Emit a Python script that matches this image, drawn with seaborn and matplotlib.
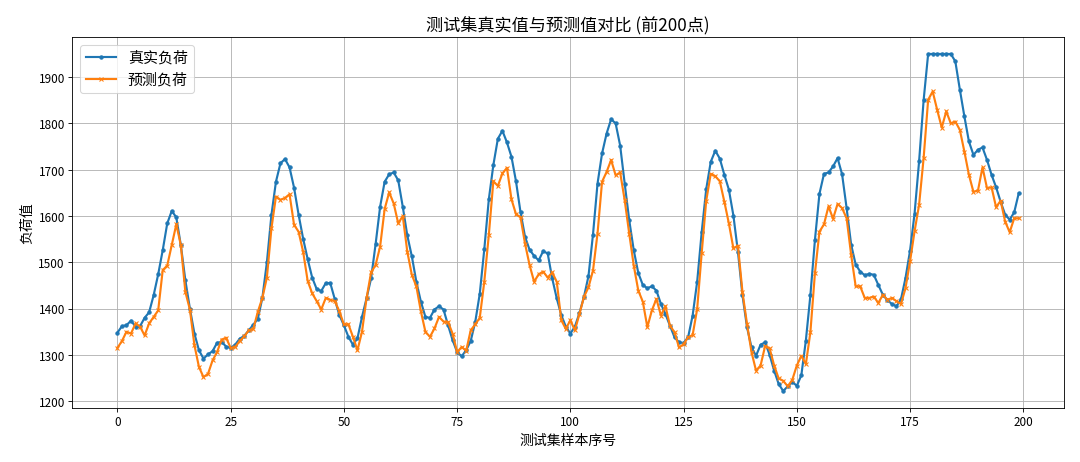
import numpy as np
import pandas as pd
import matplotlib
matplotlib.use('Agg')
import matplotlib.pyplot as plt
import seaborn as sns

# values (first 200 test samples)
true_load = [
    1348, 1362, 1364, 1374, 1361, 1362, 1380, 1392, 1429, 1474,
    1526, 1584, 1611, 1597, 1537, 1461, 1400, 1346, 1310, 1292,
    1301, 1308, 1326, 1328, 1318, 1315, 1322, 1335, 1341, 1353,
    1365, 1378, 1423, 1500, 1602, 1674, 1714, 1723, 1705, 1661,
    1603, 1551, 1507, 1467, 1442, 1438, 1455, 1455, 1420, 1386,
    1364, 1339, 1322, 1336, 1382, 1422, 1465, 1539, 1620, 1674,
    1690, 1694, 1677, 1620, 1558, 1513, 1458, 1415, 1382, 1380,
    1398, 1405, 1398, 1364, 1332, 1306, 1297, 1310, 1330, 1371,
    1432, 1528, 1636, 1710, 1767, 1784, 1759, 1728, 1675, 1608,
    1555, 1527, 1514, 1504, 1524, 1519, 1465, 1422, 1386, 1361,
    1346, 1361, 1390, 1425, 1470, 1560, 1670, 1735, 1778, 1809,
    1800, 1752, 1670, 1591, 1526, 1477, 1451, 1444, 1448, 1439,
    1410, 1388, 1363, 1338, 1327, 1326, 1338, 1385, 1458, 1565,
    1658, 1717, 1741, 1724, 1689, 1657, 1601, 1523, 1429, 1360,
    1316, 1298, 1322, 1327, 1300, 1266, 1237, 1222, 1232, 1242,
    1233, 1256, 1331, 1429, 1548, 1648, 1691, 1694, 1707, 1725,
    1690, 1617, 1538, 1495, 1480, 1472, 1475, 1473, 1451, 1430,
    1418, 1410, 1405, 1420, 1466, 1525, 1605, 1718, 1850, 1950,
    1950, 1950, 1950, 1950, 1950, 1934, 1873, 1815, 1761, 1732,
    1743, 1748, 1721, 1689, 1662, 1631, 1603, 1592, 1608, 1649,
]

pred_load = [
    1315, 1330, 1350, 1346, 1368, 1361, 1342, 1368, 1382, 1396,
    1483, 1493, 1537, 1582, 1537, 1436, 1398, 1321, 1274, 1252,
    1259, 1288, 1306, 1333, 1337, 1315, 1317, 1330, 1340, 1353,
    1356, 1393, 1423, 1467, 1573, 1642, 1635, 1639, 1647, 1581,
    1566, 1523, 1460, 1433, 1416, 1398, 1423, 1419, 1416, 1394,
    1366, 1366, 1339, 1310, 1350, 1422, 1478, 1494, 1534, 1615,
    1651, 1627, 1584, 1600, 1523, 1473, 1448, 1394, 1350, 1339,
    1357, 1382, 1372, 1371, 1346, 1306, 1317, 1309, 1353, 1366,
    1380, 1458, 1559, 1675, 1665, 1692, 1704, 1636, 1604, 1597,
    1540, 1494, 1458, 1474, 1480, 1467, 1478, 1458, 1375, 1356,
    1375, 1353, 1388, 1425, 1446, 1482, 1562, 1674, 1695, 1721,
    1688, 1694, 1634, 1562, 1493, 1439, 1415, 1360, 1396, 1421,
    1385, 1405, 1363, 1349, 1316, 1323, 1338, 1343, 1399, 1520,
    1633, 1691, 1686, 1675, 1631, 1584, 1530, 1536, 1436, 1367,
    1306, 1266, 1277, 1319, 1314, 1277, 1249, 1244, 1232, 1246,
    1277, 1298, 1280, 1349, 1476, 1566, 1582, 1621, 1594, 1626,
    1617, 1595, 1516, 1448, 1448, 1423, 1423, 1426, 1412, 1430,
    1419, 1423, 1416, 1410, 1444, 1502, 1567, 1624, 1725, 1851,
    1869, 1829, 1791, 1826, 1800, 1804, 1786, 1739, 1689, 1652,
    1655, 1705, 1660, 1662, 1619, 1633, 1588, 1565, 1595, 1595,
]

sample_idx = np.arange(len(true_load))

plt.rcParams['font.family'] = ['Noto Sans CJK SC', 'DejaVu Sans']
plt.rcParams['axes.unicode_minus'] = False

df = pd.DataFrame({'idx': sample_idx, 'true': true_load, 'pred': pred_load})

blue = '#1f77b4'
orange = '#ff7f0e'

fig, ax = plt.subplots(figsize=(14, 6))
sns.lineplot(data=df, x='idx', y='true', ax=ax, color=blue, linewidth=2,
             marker='o', markersize=3.5, markeredgecolor=blue,
             markeredgewidth=0.5, label='真实负荷')
sns.lineplot(data=df, x='idx', y='pred', ax=ax, color=orange, linewidth=2,
             marker='x', markersize=3.5, markeredgecolor=orange,
             markeredgewidth=1.0, label='预测负荷')

ax.set_title('测试集真实值与预测值对比 (前200点)', fontsize=16)
ax.set_xlabel('测试集样本序号', fontsize=13)
ax.set_ylabel('负荷值', fontsize=13)
ax.set_xticks([0, 25, 50, 75, 100, 125, 150, 175, 200])
ax.set_yticks([1200, 1300, 1400, 1500, 1600, 1700, 1800, 1900])
ax.tick_params(labelsize=11)
ax.grid(True, color='#b0b0b0', linewidth=0.8)
ax.legend(loc='upper left', fontsize=14)

fig.subplots_adjust(left=0.067, right=0.985, top=0.918, bottom=0.117)
plt.savefig('out.png', dpi=1080 / 14)
